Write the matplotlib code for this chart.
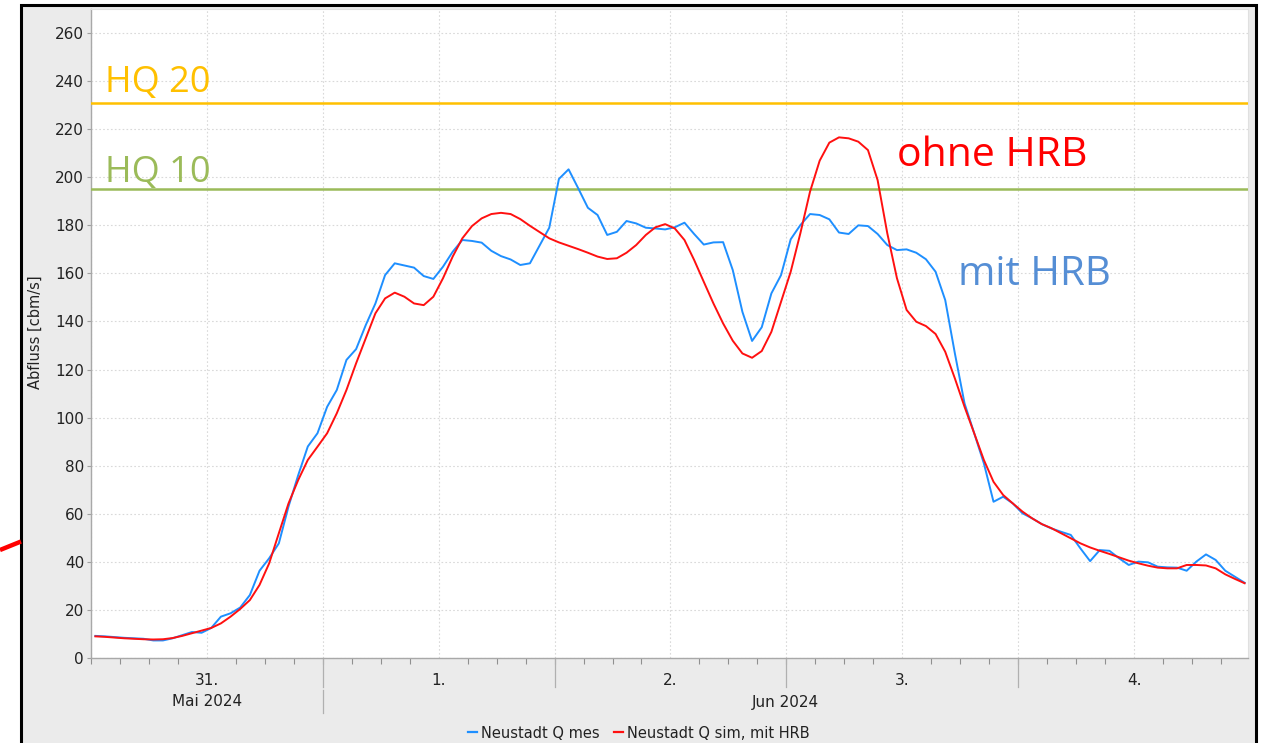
import numpy as np
import matplotlib
matplotlib.use("Agg")
import matplotlib.pyplot as plt
from matplotlib.patches import Rectangle
from matplotlib.lines import Line2D
import matplotlib.transforms as mtransforms

# ---------------- data (hourly values, starting 31 May 2024 00:00) ----------------
q_mes = [9.2, 9.0, 8.7, 8.4, 8.2, 8.0, 7.3, 7.3, 8.2, 9.5,
         10.8, 10.5, 12.5, 17.2, 18.6, 21.0, 26.2, 36.3, 41.5, 47.7,
         63.0, 76.0, 88.0, 93.5, 104.5, 111.5, 124.0, 128.5, 138.5, 147.5,
         159.3, 164.2, 163.3, 162.4, 158.9, 157.7, 162.8, 169.0, 173.9, 173.5,
         172.8, 169.4, 167.2, 165.8, 163.5, 164.2, 171.6, 179.0, 199.3, 203.3,
         195.4, 187.3, 184.3, 176.0, 177.3, 181.8, 180.8, 179.0, 178.7, 178.3,
         179.2, 181.1, 176.4, 172.0, 172.9, 173.0, 161.4, 144.0, 131.9, 137.6,
         151.7, 159.3, 174.2, 180.1, 184.7, 184.3, 182.5, 177.0, 176.4, 180.0,
         179.7, 176.4, 171.8, 169.7, 170.0, 168.6, 165.9, 160.7, 148.9, 126.7,
         105.9, 93.5, 81.0, 65.0, 67.1, 64.3, 60.2, 58.1, 55.7, 53.9,
         52.5, 51.2, 45.6, 40.3, 44.9, 44.6, 41.5, 38.7, 40.1, 39.8,
         38.0, 37.7, 37.6, 36.3, 40.1, 43.1, 40.8, 36.3, 33.8, 31.3]

q_sim = [9.0, 8.8, 8.5, 8.2, 8.0, 7.8, 7.7, 7.8, 8.3, 9.2,
         10.3, 11.4, 12.5, 14.4, 17.2, 20.4, 24.1, 30.4, 39.4, 51.9,
         64.3, 74.0, 82.4, 87.9, 93.5, 101.8, 111.5, 122.6, 133.0, 143.4,
         149.6, 152.0, 150.3, 147.5, 146.8, 150.3, 158.0, 167.0, 174.6, 179.7,
         182.9, 184.7, 185.2, 184.7, 182.6, 179.8, 177.2, 174.6, 172.9, 171.5,
         170.1, 168.6, 167.0, 166.0, 166.3, 168.6, 171.8, 176.0, 179.2, 180.5,
         178.7, 173.9, 165.6, 156.5, 147.5, 139.2, 132.0, 126.7, 124.9, 127.7,
         135.7, 148.2, 160.7, 176.7, 194.0, 206.9, 214.4, 216.6, 216.2, 214.8,
         211.3, 198.8, 176.7, 158.0, 144.8, 139.9, 138.1, 134.8, 127.4, 116.3,
         104.5, 93.5, 82.4, 73.3, 67.8, 64.3, 60.9, 58.1, 55.7, 54.0,
         51.9, 49.8, 47.7, 46.0, 44.6, 43.3, 41.9, 40.5, 39.4, 38.4,
         37.6, 37.3, 37.3, 38.7, 38.7, 38.5, 37.3, 34.8, 32.9, 31.1]

time_offset_h = 0.45           # timestamp offset of the hourly values
span_h = 119.8                 # displayed time span in hours

day_labels = ["31.", "1.", "2.", "3.", "4."]
month_labels = ["Mai 2024", "Jun 2024"]
hq_levels = [195, 231]
hq_labels = ["HQ 10", "HQ 20"]
hq_colors = ["#9BBB59", "#FFC000"]
series_labels = ["Neustadt Q mes", "Neustadt Q sim, mit HRB"]

# ---------------- figure ----------------
W, H = 1266, 743
fig = plt.figure(figsize=(W / 100, H / 100), dpi=100)
fig.patch.set_facecolor("white")

frame = Rectangle((21 / W, -0.02), (1256 - 21) / W, 1 - 5 / H + 0.02,
                  transform=fig.transFigure, facecolor="#ebebeb",
                  edgecolor="black", lw=2.2, zorder=0)
fig.add_artist(frame)
fig.add_artist(Line2D([0, 21 / W], [1 - 550 / H, 1 - 541.5 / H],
                      transform=fig.transFigure, color="red", lw=3.2,
                      solid_capstyle="butt"))

ax = fig.add_axes([91 / W, 1 - 658 / H, (1248 - 91) / W, (658 - 9) / H])
ax.set_facecolor("white")
ax_h_px = 658 - 9

t = np.arange(len(q_mes)) + time_offset_h
ax.plot(t, q_mes, color="#1e8fff", lw=1.4, zorder=4)
ax.plot(t, q_sim, color="#ff1010", lw=1.4, zorder=5)

for lvl, col in zip(hq_levels, hq_colors):
    ax.axhline(lvl, color=col, lw=1.8, zorder=3)

ax.text(1.45, hq_levels[1] + 4.5, hq_labels[1], color=hq_colors[1],
        fontsize=26, family="Open Sans", va="baseline", ha="left")
ax.text(1.45, hq_levels[0] + 3.2, hq_labels[0], color=hq_colors[0],
        fontsize=26, family="Open Sans", va="baseline", ha="left")
ax.text(83.5, 204.5, "ohne HRB", color="#ff0000", fontsize=29.5,
        family="Open Sans", va="baseline", ha="left")
ax.text(89.8, 155.0, "mit HRB", color="#558ed5", fontsize=29,
        family="Open Sans", va="baseline", ha="left")

ax.set_xlim(0, span_h)
ax.set_ylim(0, 270)

grid_kw = dict(color="#d9d9d9", lw=0.8, linestyle=(0, (1.5, 2)))
ax.set_yticks(np.arange(0, 261, 20))
ax.yaxis.grid(True, **grid_kw)
ax.set_axisbelow(True)
for x in np.arange(0, span_h, 12):
    ax.axvline(x, zorder=1, **grid_kw)

# x labels at noon with no tick mark
ax.set_xticks(np.arange(12, span_h, 24))
ax.set_xticklabels(day_labels)
ax.set_xticks(np.arange(0, span_h, 3), minor=True)
ax.tick_params(axis="x", which="major", length=0, pad=11, labelsize=11,
               labelcolor="#222222")
ax.tick_params(axis="x", which="minor", length=4, color="#909090", width=0.8)
ax.tick_params(axis="y", which="major", length=3, color="#a0a0a0",
               labelsize=11, labelcolor="#222222", pad=2)

for s in ["left", "bottom"]:
    ax.spines[s].set_color("#a8a8a8")
    ax.spines[s].set_linewidth(1.0)
for s in ["top", "right"]:
    ax.spines[s].set_color("#e0e0e0")
    ax.spines[s].set_linewidth(0.8)

# day separators and month labels below axis
bt = mtransforms.blended_transform_factory(ax.transData, ax.transAxes)
for x in np.arange(24, span_h, 24):
    ax.add_line(Line2D([x, x], [0, -29 / ax_h_px], transform=bt,
                       color="#b0b0b0", lw=0.9, clip_on=False))
ax.add_line(Line2D([24, 24], [-32 / ax_h_px, -55 / ax_h_px], transform=bt,
                   color="#b0b0b0", lw=0.9, clip_on=False))
ax.text(12, -44 / ax_h_px, month_labels[0], transform=bt, ha="center",
        va="center", fontsize=11, color="#222222")
ax.text((24 + span_h) / 2, -44 / ax_h_px, month_labels[1], transform=bt,
        ha="center", va="center", fontsize=11, color="#222222")

ax.set_ylabel("Abfluss [cbm/s]", fontsize=10.5, color="#222222")
ax.yaxis.set_label_coords((43 - 91) / (1248 - 91), 0.502)

handles = [Line2D([], [], color="#1e8fff", lw=1.6),
           Line2D([], [], color="#ff1010", lw=1.6)]
fig.legend(handles, series_labels, loc="center",
           bbox_to_anchor=(639 / W, 1 - 733 / H), ncol=2, frameon=False,
           handlelength=0.6, handletextpad=0.3, columnspacing=1.0,
           fontsize=10.5, labelcolor="#222222")

fig.savefig("out.png", dpi=100, facecolor="white")
